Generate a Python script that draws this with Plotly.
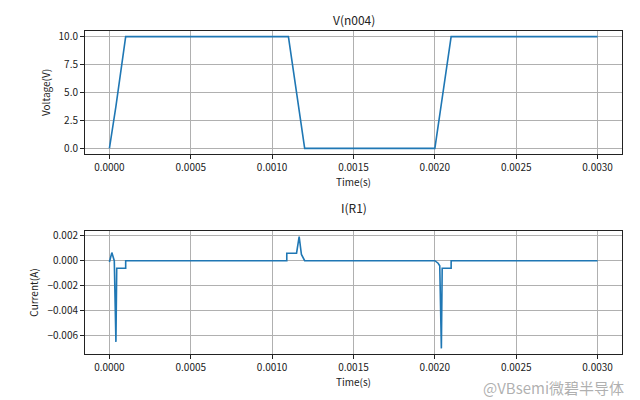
import plotly.graph_objects as go

# Voltage V(n004)
t_v = [0.0, 0.00004, 0.0001, 0.0011, 0.0012, 0.0020, 0.002037, 0.0021, 0.0030]
v_n004 = [0.0, 3.75, 10.0, 10.0, 0.0, 0.0, 3.7, 10.0, 10.0]

# Current I(R1)
t_i = [0.0, 0.000015, 0.00003, 0.00004, 0.000045, 0.0001, 0.0001,
       0.00109, 0.00109, 0.00115, 0.001166, 0.00118, 0.0012,
       0.0020, 0.00202, 0.00203, 0.00204, 0.002045, 0.0021, 0.0021, 0.0030]
i_r1 = [-0.0001, 0.00065, 0.0, -0.0065, -0.0006, -0.0006, 0.0,
        0.0, 0.0006, 0.0006, 0.00193, 0.0005, 0.0,
        0.0, -0.0002, -0.0004, -0.00702, -0.0006, -0.0006, 0.0, 0.0]

x_ticks = [0.0, 0.0005, 0.0010, 0.0015, 0.0020, 0.0025, 0.0030]
v_ticks = [0.0, 2.5, 5.0, 7.5, 10.0]
i_ticks = [-0.006, -0.004, -0.002, 0.0, 0.002]

FONT = "Noto Sans CJK SC, DejaVu Sans, sans-serif"
LINE = "#1f77b4"

OFF = 8  # page body margin in the browser
W, H = 640, 400
ML, MT = 85 - OFF, 31 - OFF
MR = W - (622 - OFF)
MB = H - (354 - OFF)
PH = H - MT - MB
PW = W - ML - MR


def py(pix):
    # convert a pixel row on the screen into paper y
    return (H - MB - (pix - OFF)) / PH


def px(pix):
    return ((pix - OFF) - ML) / PW


fig = go.Figure()
fig.add_trace(go.Scatter(x=t_v, y=v_n004, mode="lines", line=dict(color=LINE, width=1.6),
                         xaxis="x", yaxis="y", showlegend=False))
fig.add_trace(go.Scatter(x=t_i, y=i_r1, mode="lines", line=dict(color=LINE, width=1.6),
                         xaxis="x2", yaxis="y2", showlegend=False))

xr = [-0.00015, 0.00315]
axis_common = dict(showline=True, linecolor="#222", linewidth=1, mirror=True,
                   ticks="outside", ticklen=4, tickcolor="#222", automargin=False,
                   showgrid=True, gridcolor="#b0b0b0", gridwidth=1, zeroline=False,
                   tickfont=dict(family=FONT, size=10, color="#222"))

fig.update_layout(
    width=W, height=H,
    margin=dict(l=ML, r=MR, t=MT, b=MB),
    paper_bgcolor="white", plot_bgcolor="white",
    font=dict(family=FONT, size=10, color="#222"),
    xaxis=dict(domain=[0, 1], anchor="y", range=xr, tickvals=x_ticks,
               tickformat=".4f", title=dict(text="Time(s)", standoff=2,
                                            font=dict(family=FONT, size=10)),
               **axis_common),
    yaxis=dict(domain=[py(154), 1], anchor="x", range=[-0.5, 10.5], tickvals=v_ticks,
               tickformat=".1f", title=dict(text="Voltage(V)", standoff=6,
                                            font=dict(family=FONT, size=10)),
               **axis_common),
    xaxis2=dict(domain=[0, 1], anchor="y2", range=xr, tickvals=x_ticks,
                tickformat=".4f", title=dict(text="Time(s)", standoff=2,
                                             font=dict(family=FONT, size=10)),
                **axis_common),
    yaxis2=dict(domain=[0, py(231)], anchor="x2", range=[-0.00747, 0.00238],
                tickvals=i_ticks, tickformat=".3f",
                title=dict(text="Current(A)", standoff=6, font=dict(family=FONT, size=10)),
                **axis_common),
    annotations=[
        dict(text="V(n004)", x=0.5, y=py(19), xref="paper", yref="paper",
             xanchor="center", yanchor="middle",
             showarrow=False, font=dict(family=FONT, size=12, color="#222")),
        dict(text="I(R1)", x=0.5, y=py(207), xref="paper", yref="paper",
             xanchor="center", yanchor="middle",
             showarrow=False, font=dict(family=FONT, size=12, color="#222")),
        dict(text="@VBsemi微碧半导体", x=px(626), y=py(388), xref="paper", yref="paper",
             xanchor="right", yanchor="middle", showarrow=False,
             font=dict(family=FONT, size=15, color="rgba(150,150,150,0.75)")),
    ],
)

fig.write_html("out.html")
